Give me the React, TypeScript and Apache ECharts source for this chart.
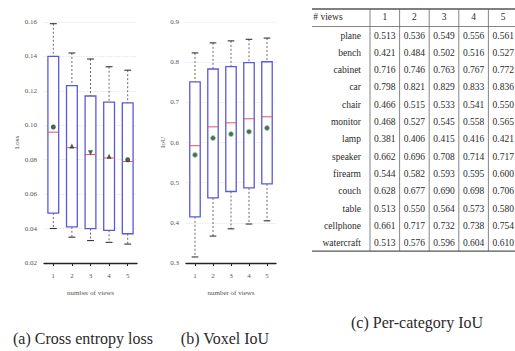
import React, { useEffect, useRef } from "react";
import * as echarts from "echarts";

// ---- data ----
const views = ["1", "2", "3", "4", "5"];

// (a) Cross entropy loss
const lossWhiskerLow = [0.040, 0.035, 0.033, 0.032, 0.031];
const lossQ1 = [0.049, 0.041, 0.040, 0.039, 0.037];
const lossMedian = [0.096, 0.087, 0.083, 0.081, 0.079];
const lossQ3 = [0.140, 0.123, 0.117, 0.1135, 0.113];
const lossWhiskerHigh = [0.159, 0.142, 0.1385, 0.134, 0.132];
const lossMean = [0.099, 0.088, 0.084, 0.082, 0.080];

// (b) Voxel IoU
const iouWhiskerLow = [0.315, 0.367, 0.385, 0.397, 0.405];
const iouQ1 = [0.415, 0.462, 0.478, 0.487, 0.497];
const iouMedian = [0.592, 0.639, 0.649, 0.659, 0.664];
const iouQ3 = [0.751, 0.783, 0.789, 0.799, 0.801];
const iouWhiskerHigh = [0.823, 0.848, 0.853, 0.857, 0.86];
const iouMean = [0.569, 0.611, 0.621, 0.627, 0.636];

// (c) Per-category IoU table
const tableHeader = ["# views", "1", "2", "3", "4", "5"];
const categories = [
  "plane", "bench", "cabinet", "car", "chair", "monitor", "lamp",
  "speaker", "firearm", "couch", "table", "cellphone", "watercraft",
];
const iouViews1 = ["0.513", "0.421", "0.716", "0.798", "0.466", "0.468", "0.381", "0.662", "0.544", "0.628", "0.513", "0.661", "0.513"];
const iouViews2 = ["0.536", "0.484", "0.746", "0.821", "0.515", "0.527", "0.406", "0.696", "0.582", "0.677", "0.550", "0.717", "0.576"];
const iouViews3 = ["0.549", "0.502", "0.763", "0.829", "0.533", "0.545", "0.415", "0.708", "0.593", "0.690", "0.564", "0.732", "0.596"];
const iouViews4 = ["0.556", "0.516", "0.767", "0.833", "0.541", "0.558", "0.416", "0.714", "0.595", "0.698", "0.573", "0.738", "0.604"];
const iouViews5 = ["0.561", "0.527", "0.772", "0.836", "0.550", "0.565", "0.421", "0.717", "0.600", "0.706", "0.580", "0.754", "0.610"];

const captions = ["(a) Cross entropy loss", "(b) Voxel IoU", "(c) Per-category IoU"];

const SERIF = "Liberation Serif";

function boxData(lo: number[], q1: number[], md: number[], q3: number[], hi: number[]) {
  return views.map((_, i) => [i, lo[i], q1[i], md[i], q3[i], hi[i]]);
}

function renderBox(params: any, api: any) {
  const x = api.value(0);
  const lo = api.coord([x, api.value(1)]);
  const q1 = api.coord([x, api.value(2)]);
  const md = api.coord([x, api.value(3)]);
  const q3 = api.coord([x, api.value(4)]);
  const hi = api.coord([x, api.value(5)]);
  const w = api.size([1, 0])[0] * 0.58;
  const cx = lo[0];
  const cap = w * 0.32;
  const wh = { stroke: "#444", lineWidth: 0.8, lineDash: [2, 2] };
  const cp = { stroke: "#222", lineWidth: 1 };
  return {
    type: "group",
    children: [
      { type: "line", shape: { x1: cx, y1: hi[1], x2: cx, y2: q3[1] }, style: wh },
      { type: "line", shape: { x1: cx, y1: q1[1], x2: cx, y2: lo[1] }, style: wh },
      { type: "line", shape: { x1: cx - cap, y1: hi[1], x2: cx + cap, y2: hi[1] }, style: cp },
      { type: "line", shape: { x1: cx - cap, y1: lo[1], x2: cx + cap, y2: lo[1] }, style: cp },
      {
        type: "rect",
        shape: { x: cx - w / 2, y: q3[1], width: w, height: q1[1] - q3[1] },
        style: { fill: "#ffffff", stroke: "#5a5ad6", lineWidth: 1.3 },
      },
      {
        type: "line",
        shape: { x1: cx - w / 2, y1: md[1], x2: cx + w / 2, y2: md[1] },
        style: { stroke: "#e0506a", lineWidth: 1 },
      },
    ],
  };
}

function buildTable(): any[] {
  const els: any[] = [];
  const left = 312;
  const colStart = 370;
  const colW = 29.6;
  const headerY = 17;
  const rowY0 = 35.5;
  const rowH = 17.3;
  const topY = 9;
  const headLineY = 26.5;
  const bottomY = rowY0 + (categories.length - 1) * rowH + 8;
  const right = 515;
  const txt = (text: string, x: number, y: number, align: string) => ({
    type: "text",
    x,
    y,
    style: {
      text,
      fill: "#2a2a2a",
      fontSize: 9.5,
      fontFamily: SERIF,
      textAlign: align,
      textVerticalAlign: "middle",
    },
  });
  els.push({ type: "line", shape: { x1: left, y1: topY, x2: right, y2: topY }, style: { stroke: "#555", lineWidth: 1.5 } });
  els.push({ type: "line", shape: { x1: left, y1: headLineY, x2: right, y2: headLineY }, style: { stroke: "#666", lineWidth: 0.8 } });
  els.push({ type: "line", shape: { x1: left, y1: bottomY, x2: right, y2: bottomY }, style: { stroke: "#555", lineWidth: 1.2 } });
  for (let c = 0; c < 5; c++) {
    const vx = colStart + c * colW;
    els.push({ type: "line", shape: { x1: vx, y1: topY, x2: vx, y2: bottomY }, style: { stroke: "#666", lineWidth: 0.8 } });
  }
  els.push(txt(tableHeader[0], 328, headerY, "center"));
  for (let c = 1; c < tableHeader.length; c++) {
    els.push(txt(tableHeader[c], colStart + (c - 0.5) * colW, headerY, "center"));
  }
  const cols = [iouViews1, iouViews2, iouViews3, iouViews4, iouViews5];
  categories.forEach((cat, r) => {
    const y = rowY0 + r * rowH;
    els.push(txt(cat, 361, y, "right"));
    cols.forEach((col, c) => {
      els.push(txt(col[r], colStart + (c + 0.5) * colW, y, "center"));
    });
  });
  return els;
}

function caption(text: string, x: number, y: number) {
  return {
    type: "text",
    x,
    y,
    style: {
      text,
      fontSize: 16,
      fontFamily: SERIF,
      fill: "#2a2a2a",
      textAlign: "center",
      textVerticalAlign: "middle",
    },
  };
}

export default function App() {
  const ref = useRef<HTMLDivElement>(null);
  useEffect(() => {
    if (!ref.current) return;
    const chart = echarts.init(ref.current, null, { renderer: "svg" });
    const axisLabel = { fontSize: 7, color: "#555", fontFamily: SERIF };
    const nameStyle = { fontSize: 7, color: "#555", fontFamily: SERIF };
    const splitLine = { show: true, lineStyle: { color: "#dddddd", type: "dotted", width: 0.8 } };
    const xAxisBase = {
      type: "category",
      data: views,
      boundaryGap: true,
      name: "number of views",
      nameLocation: "middle",
      nameGap: 26,
      nameTextStyle: nameStyle,
      axisLine: { show: true, lineStyle: { color: "#222", width: 1.3 } },
      axisTick: { show: true, alignWithLabel: true, length: 3, lineStyle: { color: "#222" } },
      axisLabel: { ...axisLabel, margin: 9 },
      splitLine: { show: false },
    };
    const lossSymbols = ["circle", "triangle", "triangle", "triangle", "circle"];
    const lossRot = [0, 0, 180, 0, 0];
    chart.setOption({
      animation: false,
      backgroundColor: "#ffffff",
      textStyle: { fontFamily: SERIF },
      grid: [
        { left: 44, right: 378, top: 22, bottom: 88 },
        { left: 186, right: 239, top: 22, bottom: 88 },
      ],
      xAxis: [
        { ...xAxisBase, gridIndex: 0 },
        { ...xAxisBase, gridIndex: 1 },
      ],
      yAxis: [
        {
          type: "value",
          gridIndex: 0,
          min: 0.02,
          max: 0.16,
          interval: 0.02,
          name: "Loss",
          nameLocation: "middle",
          nameGap: 20,
          nameTextStyle: nameStyle,
          axisLine: { show: false },
          axisTick: { show: false },
          axisLabel: { ...axisLabel, margin: 7, formatter: (v: number) => v.toFixed(2) },
          splitLine,
        },
        {
          type: "value",
          gridIndex: 1,
          min: 0.3,
          max: 0.9,
          interval: 0.1,
          name: "IoU",
          nameLocation: "middle",
          nameGap: 18,
          nameTextStyle: nameStyle,
          axisLine: { show: false },
          axisTick: { show: false },
          axisLabel: { ...axisLabel, margin: 7, formatter: (v: number) => v.toFixed(1) },
          splitLine,
        },
      ],
      series: [
        {
          type: "custom",
          xAxisIndex: 0,
          yAxisIndex: 0,
          renderItem: renderBox,
          encode: { x: 0, y: [1, 2, 3, 4, 5] },
          data: boxData(lossWhiskerLow, lossQ1, lossMedian, lossQ3, lossWhiskerHigh),
          z: 2,
        },
        {
          type: "scatter",
          xAxisIndex: 0,
          yAxisIndex: 0,
          symbolSize: 5,
          itemStyle: { color: "#1d3d1d" },
          data: views.map((_, i) => ({
            value: [i, lossMean[i]],
            symbol: lossSymbols[i],
            symbolRotate: lossRot[i],
          })),
          z: 5,
        },
        {
          type: "custom",
          xAxisIndex: 1,
          yAxisIndex: 1,
          renderItem: renderBox,
          encode: { x: 0, y: [1, 2, 3, 4, 5] },
          data: boxData(iouWhiskerLow, iouQ1, iouMedian, iouQ3, iouWhiskerHigh),
          z: 2,
        },
        {
          type: "scatter",
          xAxisIndex: 1,
          yAxisIndex: 1,
          symbol: "circle",
          symbolSize: 5,
          itemStyle: { color: "#1d4a22", borderColor: "#9fd3a6", borderWidth: 1 },
          data: views.map((_, i) => [i, iouMean[i]]),
          z: 5,
        },
      ],
      graphic: [
        ...buildTable(),
        caption(captions[0], 83, 338),
        caption(captions[1], 225, 338),
        caption(captions[2], 417, 322),
      ],
    });
    return () => chart.dispose();
  }, []);
  return (
    <div
      ref={ref}
      style={{ position: "fixed", left: 0, top: 0, width: 515, height: 351, background: "#fff" }}
    />
  );
}
